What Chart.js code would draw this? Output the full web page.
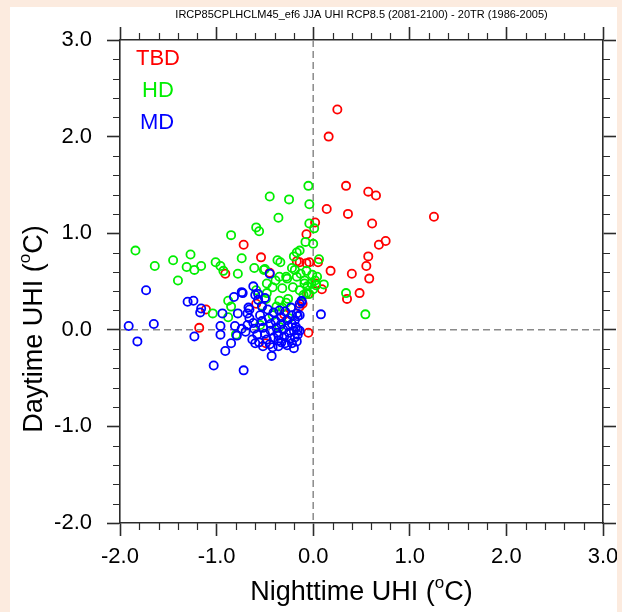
<!DOCTYPE html>
<html>
<head>
<meta charset="utf-8">
<title>UHI scatter</title>
<script src="https://cdn.jsdelivr.net/npm/chart.js@4.4.1/dist/chart.umd.min.js"></script>
<style>
  html, body { margin: 0; padding: 0; }
  body { width: 622px; height: 612px; background: #fcebdf; position: relative; overflow: hidden; }
  #panel { position: absolute; left: 10px; top: 7px; width: 607px; height: 605px; background: #ffffff; }
  #chart { display: block; }
</style>
</head>
<body>
<div id="panel"><canvas id="chart" width="607" height="605"></canvas></div>
<script>
// Title and axis text
const plotTitle = 'IRCP85CPLHCLM45_ef6 JJA UHI RCP8.5 (2081-2100) - 20TR (1986-2005)';
const xTitle = ['Nighttime UHI (', 'o', 'C)'];
const yTitle = ['Daytime UHI (', 'o', 'C)'];

// Axis range and labelled ticks
const axisMin = -2;
const axisMax = 3;
const majorStep = 1;
const minorStep = 0.2;

// Group names and colours
const groupNames = ['TBD', 'HD', 'MD'];
const groupColors = ['#ff0000', '#00ee00', '#0000ff'];

// [nighttime UHI, daytime UHI] for each city, per group
const tbdPoints = [
  [0.25,2.28],[0.16,2.00],[0.34,1.49],[0.57,1.43],[0.65,1.39],[0.14,1.25],[0.36,1.20],[1.25,1.17],
  [0.61,1.10],[0.02,1.11],[-0.07,0.99],[0.75,0.92],[0.68,0.88],[0.57,0.76],[0.55,0.66],[0.18,0.61],
  [0.40,0.58],[0.58,0.53],[0.05,0.70],[-0.07,0.69],[-0.04,0.70],[-0.14,0.70],[-0.17,0.71],[0.48,0.38],
  [0.35,0.32],[0.09,0.42],[-0.05,-0.03],[-0.11,0.27],[-0.72,0.88],[-0.54,0.75],[-0.91,0.58],[-1.11,0.21],
  [-1.18,0.02],[-0.45,0.59],[-0.59,0.27],[-0.14,0.24],[-0.05,0.37],[0.03,0.48],[-0.49,-0.14],[-0.30,0.16]
];
const hdPoints = [
  [-1.84,0.82],[-1.64,0.66],[-1.45,0.72],[-1.27,0.78],[-1.31,0.65],[-1.23,0.62],[-1.16,0.66],[-1.40,0.51],
  [-1.01,0.70],[-0.96,0.66],[-0.93,0.61],[-0.85,0.98],[-1.04,0.17],
  [-0.05,1.49],[-0.45,1.38],[-0.25,1.35],[-0.36,1.16],[-0.04,1.30],[-0.59,1.06],[-0.56,1.02],[-0.74,0.74],
  [-0.78,0.58],[-0.61,0.64],[-0.37,0.72],[-0.34,0.70],[-0.20,0.76],[-0.17,0.80],[-0.14,0.82],[-0.04,1.10],
  [0.01,1.05],[-0.08,0.91],[0.00,0.89],[-0.07,0.61],[-0.22,0.64],[-0.19,0.62],[-0.13,0.58],[-0.50,0.63],
  [0.06,0.73],[-0.01,0.57],
  [-0.09,0.48],[-0.02,0.48],[0.11,0.47],[0.03,0.46],[0.00,0.42],[-0.07,0.38],[0.34,0.38],[0.54,0.16],
  [-0.28,0.55],[-0.39,0.51],[-0.48,0.48],[-0.17,0.55],[-0.09,0.51],[0.02,0.51],[-0.27,0.53],[-0.35,0.55],
  [-0.42,0.44],[-0.32,0.43],[-0.21,0.44],[-0.14,0.41],[-0.06,0.45],[0.04,0.55],[-0.04,0.37],[-0.10,0.36],
  [-0.26,0.32],[-0.35,0.30],[-0.28,0.28],[-0.48,0.38],[-0.49,0.32],[-0.38,0.24],[-0.32,0.23],[-0.53,0.25],
  [-0.88,0.30],[-0.85,0.24],[-0.88,0.13],[-0.80,-0.05],[-0.35,0.03],[-0.59,0.41],[-0.51,0.62],[-0.55,0.05],
  [-0.25,0.12],[-0.42,0.15]
];
const mdPoints = [
  [-1.91,0.04],[-1.82,-0.12],[-1.65,0.06],[-1.73,0.41],[-1.30,0.29],[-1.24,0.30],[-1.17,0.18],[-1.16,0.22],
  [-1.23,-0.07],[-0.96,0.04],[-0.96,-0.05],[-0.94,0.17],[-0.85,-0.14],[-0.91,-0.22],[-1.03,-0.37],[-0.72,-0.42],
  [-0.82,0.34],[-0.74,0.39],[-0.78,0.17],[-0.81,0.04],[-0.74,0.01],[-0.79,-0.06],[-0.62,0.45],[-0.60,0.36],
  [-0.57,0.37],[-0.67,0.23],[-0.68,0.17],[-0.43,-0.27],[-0.20,-0.19],[-0.16,0.14],[-0.14,0.27],[-0.12,0.29],
  [-0.16,0.00],[0.08,0.16],[-0.45,0.58],[-0.12,0.30],[-0.14,0.15],[-0.14,-0.01],[-0.73,0.38],[-0.66,0.21],
  [-0.42,-0.18],[-0.33,-0.13],[-0.36,-0.06],[-0.17,0.17],
  [-0.66,0.12],[-0.62,0.07],[-0.61,0.01],[-0.58,-0.05],[-0.55,0.15],[-0.53,0.09],[-0.52,0.02],[-0.50,-0.04],
  [-0.48,-0.10],[-0.47,0.21],[-0.46,0.12],[-0.44,0.06],[-0.44,-0.01],[-0.41,-0.08],[-0.41,0.18],[-0.39,0.09],
  [-0.38,0.02],[-0.37,-0.03],[-0.36,-0.11],[-0.35,0.20],[-0.33,0.13],[-0.33,0.06],[-0.31,0.00],[-0.30,-0.07],
  [-0.29,-0.14],[-0.29,0.19],[-0.27,0.10],[-0.26,0.04],[-0.25,-0.03],[-0.24,-0.09],[-0.23,0.23],[-0.22,0.15],
  [-0.22,0.06],[-0.20,-0.01],[-0.19,-0.08],[-0.19,0.10],[-0.18,0.03],[-0.16,-0.05],[-0.17,-0.12],[-0.56,-0.13],
  [-0.63,-0.10],[-0.68,0.05],[-0.70,-0.02],[-0.53,0.24],[-0.57,0.31],[-0.50,0.33],[-0.60,-0.14],[-0.52,-0.17],
  [-0.45,-0.15],[-0.36,-0.17],[-0.27,-0.16],[-0.22,-0.14]
];
const groupPoints = [tbdPoints, hdPoints, mdPoints];

const FONT = '"Liberation Sans", Arial, Helvetica, sans-serif';
const INK = '#2b2b2b';
const MAJOR_LEN = 13;
const MINOR_LEN = 7;

function toXY(list) { return list.map(p => ({ x: p[0], y: p[1] })); }

const datasets = groupNames.map((name, i) => ({
  label: name,
  data: toXY(groupPoints[i]),
  showLine: false,
  pointStyle: 'circle',
  pointRadius: 4.1,
  pointHoverRadius: 4.1,
  borderWidth: 1.8,
  pointBorderWidth: 1.8,
  borderColor: groupColors[i],
  pointBorderColor: groupColors[i],
  backgroundColor: 'rgba(0,0,0,0)',
  pointBackgroundColor: 'rgba(0,0,0,0)',
  order: 3 - i
}));

// Zero reference lines, minor tick marks, group labels and text with superscripts
const decorations = {
  id: 'decorations',
  beforeDatasetsDraw(chart) {
    const { ctx, chartArea: a, scales } = chart;
    const x0 = scales.x.getPixelForValue(0);
    const y0 = scales.y.getPixelForValue(0);
    ctx.save();
    ctx.beginPath();
    ctx.rect(a.left, a.top, a.right - a.left, a.bottom - a.top);
    ctx.clip();
    ctx.strokeStyle = '#8a8a8a';
    ctx.lineWidth = 1.5;
    ctx.setLineDash([7, 4]);
    ctx.beginPath();
    ctx.moveTo(x0, a.top); ctx.lineTo(x0, a.bottom);
    ctx.moveTo(a.left, y0); ctx.lineTo(a.right, y0);
    ctx.stroke();
    ctx.restore();
  },
  afterDraw(chart) {
    const { ctx, chartArea: a, scales } = chart;
    ctx.save();
    // minor tick marks on all four sides
    ctx.strokeStyle = INK;
    ctx.lineWidth = 1.2;
    ctx.beginPath();
    const nMinor = Math.round((axisMax - axisMin) / minorStep);
    for (let k = 0; k <= nMinor; k++) {
      if (k % Math.round(majorStep / minorStep) === 0) continue;
      const v = axisMin + k * minorStep;
      const px = Math.round(scales.x.getPixelForValue(v)) + 0.5;
      const py = Math.round(scales.y.getPixelForValue(v)) + 0.5;
      ctx.moveTo(px, a.bottom); ctx.lineTo(px, a.bottom + MINOR_LEN);
      ctx.moveTo(px, a.top); ctx.lineTo(px, a.top - MINOR_LEN);
      ctx.moveTo(a.left, py); ctx.lineTo(a.left - MINOR_LEN, py);
      ctx.moveTo(a.right, py); ctx.lineTo(a.right + MINOR_LEN, py);
    }
    ctx.stroke();

    // group labels in the upper-left corner
    ctx.font = '22px ' + FONT;
    ctx.textBaseline = 'middle';
    ctx.textAlign = 'left';
    const labelPos = [[a.left + 16, a.top + 19], [a.left + 22, a.top + 51], [a.left + 20, a.top + 83]];
    groupNames.forEach((n, i) => {
      ctx.fillStyle = groupColors[i];
      ctx.fillText(n, labelPos[i][0], labelPos[i][1]);
    });

    // plot title
    ctx.fillStyle = '#000';
    ctx.font = '11px ' + FONT;
    ctx.textAlign = 'center';
    ctx.fillText(plotTitle, (a.left + a.right) / 2, 8);

    // axis titles with superscript degree sign
    function supText(parts, size) {
      ctx.font = size + 'px ' + FONT;
      const w0 = ctx.measureText(parts[0]).width;
      const w2 = ctx.measureText(parts[2]).width;
      ctx.font = Math.round(size * 0.62) + 'px ' + FONT;
      const w1 = ctx.measureText(parts[1]).width;
      const total = w0 + w1 + w2;
      let x = -total / 2;
      ctx.textAlign = 'left';
      ctx.textBaseline = 'alphabetic';
      ctx.font = size + 'px ' + FONT;
      ctx.fillText(parts[0], x, size * 0.36);
      x += w0;
      ctx.font = Math.round(size * 0.62) + 'px ' + FONT;
      ctx.fillText(parts[1], x, size * 0.36 - size * 0.42);
      x += w1;
      ctx.font = size + 'px ' + FONT;
      ctx.fillText(parts[2], x, size * 0.36);
    }
    ctx.fillStyle = '#000';
    ctx.save();
    ctx.translate((a.left + a.right) / 2, 583);
    supText(xTitle, 27);
    ctx.restore();
    ctx.save();
    ctx.translate(22, 322);
    ctx.rotate(-Math.PI / 2);
    supText(yTitle, 27);
    ctx.restore();
    ctx.restore();
  }
};

function linearAxis(position, showLabels, size) {
  return {
    type: 'linear',
    position: position,
    min: axisMin,
    max: axisMax,
    afterFit(scale) {
      if (position === 'left' || position === 'right') scale.width = size;
      else scale.height = size;
      // keep the plot frame fixed; end labels may overhang it
      scale.paddingLeft = 0;
      scale.paddingRight = 0;
      scale.paddingTop = 0;
      scale.paddingBottom = 0;
    },
    afterBuildTicks(scale) {
      const t = [];
      for (let v = axisMin; v <= axisMax + 1e-9; v += majorStep) t.push({ value: v });
      scale.ticks = t;
    },
    grid: {
      drawOnChartArea: false,
      drawTicks: true,
      tickLength: MAJOR_LEN,
      tickColor: INK,
      tickWidth: 1.6
    },
    border: { display: true, color: INK, width: 1.6 },
    ticks: {
      display: showLabels,
      color: '#000',
      font: { family: FONT, size: 22 },
      padding: position === 'left' ? 15 : 8,
      maxRotation: 0,
      autoSkip: false,
      callback: v => Number(v).toFixed(1)
    },
    title: { display: false }
  };
}

new Chart(document.getElementById('chart'), {
  type: 'scatter',
  data: { datasets: datasets },
  options: {
    responsive: false,
    animation: false,
    devicePixelRatio: 1,
    layout: { padding: { left: 0, top: 33, right: 14, bottom: 0 } },
    plugins: {
      legend: { display: false },
      title: { display: false },
      tooltip: { enabled: false }
    },
    scales: {
      x: linearAxis('bottom', true, 89),
      y: linearAxis('left', true, 110),
      x2: linearAxis('top', false, 0),
      y2: linearAxis('right', false, 0)
    }
  },
  plugins: [decorations]
});
</script>
</body>
</html>
